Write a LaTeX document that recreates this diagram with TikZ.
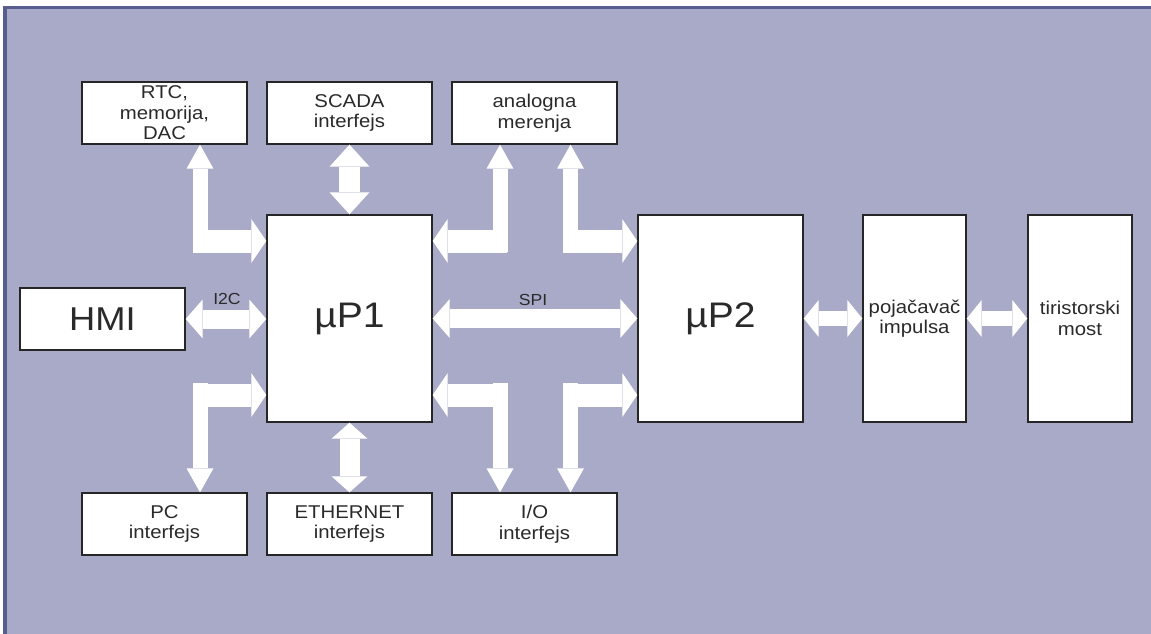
\documentclass[tikz,border=0pt]{standalone}
\usepackage{fontspec}
\setmainfont{Liberation Sans}[FakeStretch=1.1]
\usetikzlibrary{arrows.meta}
\definecolor{bgc}{HTML}{A8AAC7}
\definecolor{framec}{HTML}{575D8D}
\definecolor{txt}{HTML}{2A2A2A}
\begin{document}
\begin{tikzpicture}[x=1pt,y=-1pt,
  blk/.style={draw=black!85, line width=1.4pt, fill=white, inner sep=0pt, text=txt, align=center, font=\fontsize{18.5}{20.5}\selectfont},
  wide/.style={blk, minimum width=165pt, minimum height=62pt},
  tall/.style={blk, minimum width=165pt, minimum height=207pt},
  narrow/.style={blk, minimum width=#1, minimum height=207pt},
  bighmi/.style={font=\fontsize{33}{38}\selectfont},
  bigup/.style={font=\fontsize{35.5}{40}\selectfont},
  lbl/.style={text=txt, font=\fontsize{16}{19}\selectfont, inner sep=0pt},
  barr/.style={draw=white, line width=#1, line cap=butt, line join=miter},
  sv/.style={barr=21pt, >={Triangle[width=40pt,length=22pt,line width=0pt]}, <->},
  svb/.style={barr=20pt, >={Triangle[width=36pt,length=16pt,line width=0pt]}, <->},
  sh/.style={barr=19pt, >={Triangle[width=39pt,length=17pt,line width=0pt]}, <->},
  shb/.style={barr=15pt, >={Triangle[width=37pt,length=15pt,line width=0pt]}, <->},
  lv/.style={barr=15pt, >={Triangle[width=27pt,length=24pt,line width=0pt]}},
  lh/.style={barr=23pt, >={Triangle[width=44pt,length=15pt,line width=0pt]}},
]
\useasboundingbox (0,0) rectangle (1151,634);
\fill[white] (0,0) rectangle (1151,634);
\fill[framec] (3,6) rectangle (1151,634);
\fill[bgc] (7,9) rectangle (1151,634);

% nodes
\node[wide] (rtc) at (164.5,113) {RTC,\\memorija,\\DAC};
\node[wide] (scada) at (349.5,113) {SCADA\\interfejs};
\node[wide] (anal) at (534.5,113) {analogna\\merenja};
\node[wide,bighmi] (hmi) at (102.5,319) {HMI};
\node[tall,bigup] (up1) at (349.5,318.5) {µP1};
\node[tall,bigup] (up2) at (720.5,318.5) {µP2};
\node[narrow=103pt] (poj) at (914.5,318.5) {pojačavač\\impulsa};
\node[narrow=104pt] (tir) at (1080,318.5) {tiristorski\\most};
\node[wide] (pc) at (164.5,524) {PC\\interfejs};
\node[wide] (eth) at (349.5,524) {ETHERNET\\interfejs};
\node[wide] (io) at (534.5,524) {I/O\\interfejs};

\node[lbl] (i2c) at (227,299) {I2C};
\node[lbl] (spi) at (533,300) {SPI};

% straight arrows
\draw[sv] (scada.south) -- (up1.north);
\draw[svb] (up1.south) -- (eth.north);
\draw[sh] (hmi.east) -- (hmi.east -| up1.west);
\draw[sh] (up1.east) -- (up2.west);
\draw[shb] (up2.east) -- (poj.west);
\draw[shb] (poj.east) -- (tir.west);

% L-shaped arrows (top)
\coordinate (a1) at (200,252);   \coordinate (a1h) at (193,241);
\coordinate (a2) at (500,252);   \coordinate (a2h) at (507,241);
\coordinate (a3) at (570.5,252); \coordinate (a3h) at (563,241);
\draw[lv,<-] (rtc.south -| a1) -- (a1);
\draw[lh,->] (a1h) -- (a1h -| up1.west);
\draw[lv,<-] (anal.south -| a2) -- (a2);
\draw[lh,->] (a2h) -- (a2h -| up1.east);
\draw[lv,<-] (anal.south -| a3) -- (a3);
\draw[lh,->] (a3h) -- (a3h -| up2.west);

% L-shaped arrows (bottom)
\coordinate (b1) at (200,383);   \coordinate (b1h) at (193,395);
\coordinate (b2) at (500,383);   \coordinate (b2h) at (507,395);
\coordinate (b3) at (570.5,383); \coordinate (b3h) at (563,395);
\draw[lv,->] (b1) -- (b1 |- pc.north);
\draw[lh,->] (b1h) -- (b1h -| up1.west);
\draw[lv,->] (b2) -- (b2 |- io.north);
\draw[lh,->] (b2h) -- (b2h -| up1.east);
\draw[lv,->] (b3) -- (b3 |- io.north);
\draw[lh,->] (b3h) -- (b3h -| up2.west);
\end{tikzpicture}
\end{document}
